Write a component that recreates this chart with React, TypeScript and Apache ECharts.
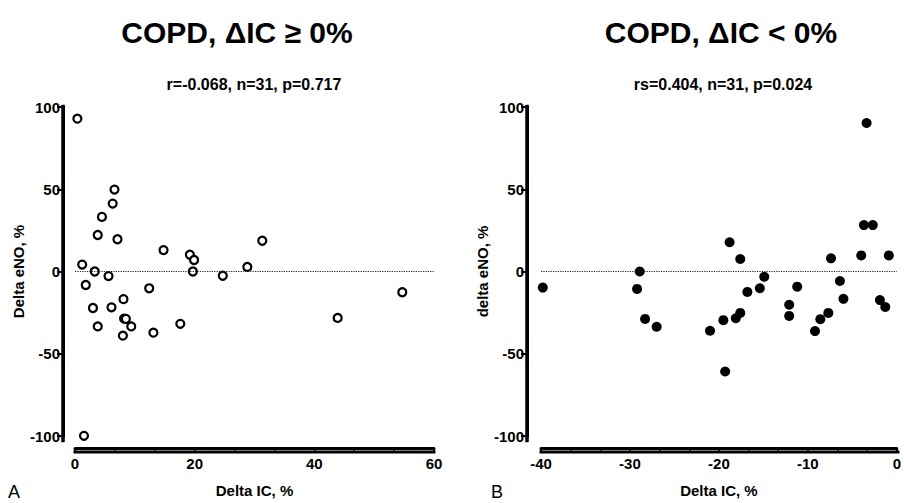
import React, { useEffect, useRef } from "react";
import * as echarts from "echarts";

const leftTitle = "COPD, \u0394IC \u2265 0%";
const rightTitle = "COPD, \u0394IC < 0%";
const leftStats = "r=-0.068, n=31, p=0.717";
const rightStats = "rs=0.404, n=31, p=0.024";
const xAxisName = "Delta IC, %";
const leftYName = "Delta eNO, %";
const rightYName = "delta eNO, %";

// Left panel: Delta IC >= 0 (x), Delta eNO (y)
const leftX = [0.4, 6.6, 6.3, 4.5, 3.8, 7.1, 14.8, 19.2, 19.9, 19.7, 1.2, 3.3, 5.6, 24.7, 28.8, 31.3, 1.8, 12.4, 8.1, 3.0, 6.1, 8.2, 8.5, 3.8, 9.4, 8.0, 13.1, 17.6, 1.5, 43.9, 54.7];
const leftY = [92.9, 49.8, 41.3, 33.2, 22.2, 19.6, 13.0, 10.2, 7.0, 0.0, 4.2, 0.0, -2.8, -2.6, 2.8, 18.7, -8.2, -10.2, -16.8, -22.2, -21.8, -28.6, -28.8, -33.4, -33.4, -39.0, -37.2, -31.8, -99.9, -28.2, -12.6];

// Right panel: Delta IC < 0 (x), delta eNO (y)
const rightX = [-39.8, -28.9, -29.2, -28.3, -27.0, -21.0, -3.4, -3.7, -2.7, -18.8, -17.6, -7.4, -4.0, -0.9, -14.9, -15.4, -16.8, -11.2, -6.4, -6.0, -12.1, -12.1, -7.7, -8.6, -9.2, -1.9, -1.3, -17.6, -18.1, -19.5, -19.3];
const rightY = [-9.8, 0.0, -10.6, -28.8, -33.6, -36.0, 90.3, 28.2, 28.2, 17.8, 7.6, 8.0, 9.8, 9.8, -3.2, -10.2, -12.4, -9.2, -5.8, -16.6, -20.2, -27.0, -25.2, -29.0, -36.2, -17.4, -21.6, -25.2, -28.4, -29.6, -60.8];

const yTicks = { min: -100, max: 100, interval: 50 };
const leftXTicks = { min: 0, max: 60, interval: 20 };
const rightXTicks = { min: -40, max: 0, interval: 10 };

const FONT = "'Liberation Sans', Arial, sans-serif";

export default function App() {
  const ref = useRef<HTMLDivElement>(null);
  useEffect(() => {
    if (!ref.current) return;
    const chart = echarts.init(ref.current, undefined, { renderer: "svg" });
    const grids = [
      { left: 75, top: 107, width: 359, height: 333 },
      { left: 541, top: 107, width: 357, height: 333 },
    ];
    const xOff = 12;
    const yOffs = [12, 14];
    const mkTickLabel = () => ({ color: "#000", fontFamily: FONT, fontWeight: "bold", fontSize: 15 });
    const mkX = (grid: number, t: any) => ({
      type: "value",
      gridIndex: grid,
      position: "bottom",
      min: t.min,
      max: t.max,
      interval: t.interval,
      offset: xOff,
      axisLine: { show: true, onZero: false, lineStyle: { color: "#000", width: 3 } },
      axisTick: { show: true, inside: false, length: 5, lineStyle: { color: "#000", width: 2 } },
      minorTick: { show: true, splitNumber: 3, length: 3, lineStyle: { color: "#000", width: 1.5 } },
      splitLine: { show: false },
      axisLabel: { ...mkTickLabel(), margin: 8 },
      name: xAxisName,
      nameLocation: "middle",
      nameGap: 35,
      nameTextStyle: { color: "#000", fontFamily: FONT, fontWeight: "bold", fontSize: 15 },
    });
    const mkY = (grid: number, name: string, offset: number) => ({
      type: "value",
      gridIndex: grid,
      position: "left",
      min: yTicks.min,
      max: yTicks.max,
      interval: yTicks.interval,
      offset,
      axisLine: { show: true, onZero: false, lineStyle: { color: "#000", width: 3 } },
      axisTick: { show: true, length: 6, lineStyle: { color: "#000", width: 2 } },
      splitLine: { show: false },
      axisLabel: { ...mkTickLabel(), margin: 3 },
      name,
      nameLocation: "middle",
      nameGap: 37,
      nameTextStyle: { color: "#000", fontFamily: FONT, fontWeight: "bold", fontSize: 15 },
    });
    const mkZeroLine = () => ({
      silent: true,
      symbol: "none",
      label: { show: false },
      lineStyle: { color: "#222", type: "dotted", width: 1.2 },
      data: [{ yAxis: 0 }],
    });
    // axis frame drawn explicitly (offset GraphPad-style axes)
    const axisGraphics: any[] = [];
    grids.forEach((g, i) => {
      const bottom = g.top + g.height;
      const yx = g.left - yOffs[i];
      axisGraphics.push({
        type: "rect",
        shape: { x: g.left - 1.5, y: bottom + xOff - 1.5, width: g.width + 3, height: 3 },
        style: { fill: "#000" },
        z: 10,
      });
      axisGraphics.push({
        type: "polygon",
        shape: {
          points: [
            [yx - 1.5, g.top - 2],
            [yx + 1.5, g.top - 2],
            [yx + 1.5, bottom + 2],
            [yx - 1.5, bottom + 2],
          ],
        },
        style: { fill: "#000", stroke: "#000", lineWidth: 0.5 },
        z: 11,
      });
    });
    chart.setOption({
      animation: false,
      backgroundColor: "#fff",
      title: [
        { text: leftTitle, left: 232, top: 12, textAlign: "center", textStyle: { fontFamily: FONT, fontWeight: "bold", fontSize: 30, color: "#000" } },
        { text: rightTitle, left: 716, top: 12, textAlign: "center", textStyle: { fontFamily: FONT, fontWeight: "bold", fontSize: 30, color: "#000" } },
        { text: leftStats, left: 249, top: 71, textAlign: "center", textStyle: { fontFamily: FONT, fontWeight: "bold", fontSize: 16, color: "#000" } },
        { text: rightStats, left: 718, top: 71, textAlign: "center", textStyle: { fontFamily: FONT, fontWeight: "bold", fontSize: 16, color: "#000" } },
        { text: "A", left: 3, top: 478, textStyle: { fontFamily: FONT, fontWeight: "normal", fontSize: 18, color: "#000" } },
        { text: "B", left: 486, top: 478, textStyle: { fontFamily: FONT, fontWeight: "normal", fontSize: 18, color: "#000" } },
      ],
      grid: grids,
      graphic: { elements: axisGraphics },
      xAxis: [mkX(0, leftXTicks), mkX(1, rightXTicks)],
      yAxis: [mkY(0, leftYName, yOffs[0]), mkY(1, rightYName, yOffs[1])],
      series: [
        {
          type: "scatter",
          xAxisIndex: 0,
          yAxisIndex: 0,
          symbol: "circle",
          symbolSize: 8,
          itemStyle: { color: "#fff", borderColor: "#000", borderWidth: 2.2, opacity: 1 },
          data: leftX.map((x, i) => [x, leftY[i]]),
          markLine: mkZeroLine(),
          z: 3,
        },
        {
          type: "scatter",
          xAxisIndex: 1,
          yAxisIndex: 1,
          symbol: "circle",
          symbolSize: 10,
          itemStyle: { color: "#000", opacity: 1 },
          data: rightX.map((x, i) => [x, rightY[i]]),
          markLine: mkZeroLine(),
          z: 3,
        },
      ],
    });
    return () => chart.dispose();
  }, []);
  return <div ref={ref} style={{ position: "fixed", left: 0, top: 0, width: 904, height: 503 }} />;
}
